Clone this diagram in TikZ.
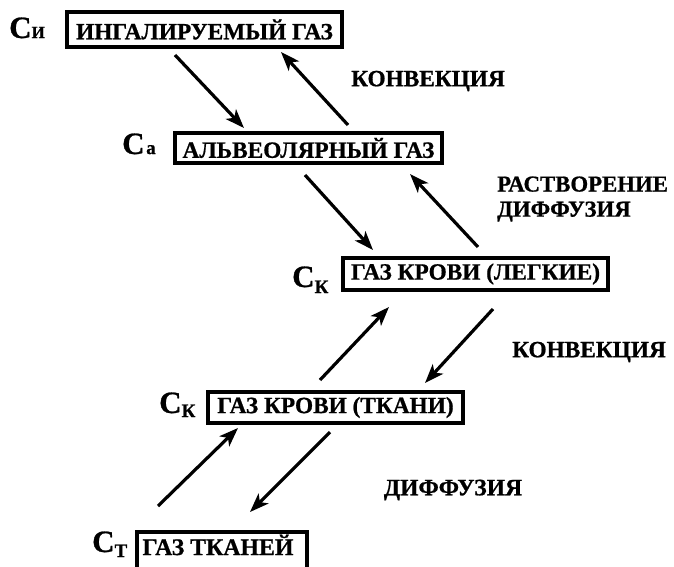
\documentclass[tikz,border=0pt]{standalone}
\usepackage{fontspec}
\setmainfont{Liberation Serif}[BoldFeatures={FakeBold=0.8}]
\usetikzlibrary{arrows.meta}
\newcommand{\bigC}{{\fontsize{31}{31}\selectfont С}}
\newcommand{\subsm}[2]{{\fontsize{#1}{#1}\selectfont #2}}
\newcommand{\gtxt}[1]{\scalebox{1.165}{#1}}
\begin{document}
\begin{tikzpicture}[x=1pt,y=-1pt,
  gasbox/.style={draw, line width=3.6pt, inner sep=0pt, font=\fontsize{20}{22}\selectfont\bfseries},
  clab/.style={anchor=base west, inner sep=0pt, font=\bfseries},
  procl/.style={inner sep=0pt, font=\fontsize{20}{23}\selectfont\bfseries, align=left},
  flow/.style={line width=3.2pt, -{Stealth[length=19pt,width=14pt,inset=5pt]}}]
\useasboundingbox (0,0) rectangle (674,566);
% boxes
\node[gasbox, minimum width=275pt, minimum height=35pt] (b1) at (204.5,29.5) {\gtxt{ИНГАЛИРУЕМЫЙ ГАЗ}};
\node[gasbox, minimum width=267pt, minimum height=30pt] (b2) at (308.5,148) {\gtxt{АЛЬВЕОЛЯРНЫЙ ГАЗ}};
\node[gasbox, minimum width=265pt, minimum height=32pt] (b3) at (475.5,274) {\gtxt{ГАЗ КРОВИ (ЛЕГКИЕ)}};
\node[gasbox, minimum width=255pt, minimum height=31pt] (b4) at (335.5,407.5) {\gtxt{ГАЗ КРОВИ (ТКАНИ)}};
\node[gasbox, minimum width=170pt, minimum height=40pt, anchor=north west] (b5) at (135,530) {};
\node[inner sep=0pt, font=\fontsize{20}{22}\selectfont\bfseries] (t5) at (218,545) {\scalebox{1.19}{ГАЗ ТКАНЕЙ}};
% concentration labels
\node[clab] (c1) at (9,38) {\bigC\subsm{17}{И}};
\node[clab] (c2) at (122,154) {\bigC\,\subsm{19}{а}};
\node[clab] (c3) at (292,287) {\bigC\raisebox{-6pt}{\subsm{19}{К}}};
\node[clab] (c4) at (159,413) {\bigC\raisebox{-4pt}{\subsm{19}{К}}};
\node[clab] (c5) at (92,552) {\bigC\raisebox{-5pt}{\subsm{19}{Т}}};
% process labels
\node[procl] (p1) at (428,81) {\gtxt{КОНВЕКЦИЯ}};
\node[procl, anchor=north west] (p2) at (497,173) {\scalebox{1.14}{\begin{tabular}{@{}l@{}}РАСТВОРЕНИЕ\\[-1pt]ДИФФУЗИЯ\end{tabular}}};
\node[procl] (p3) at (589,352) {\gtxt{КОНВЕКЦИЯ}};
\node[procl] (p4) at (453,490) {\scalebox{1.18}{ДИФФУЗИЯ}};
% arrow endpoints
\coordinate (a1s) at (175,55);  \coordinate (a1e) at (244,128);
\coordinate (a2s) at (348,125); \coordinate (a2e) at (281,52);
\coordinate (a3s) at (305,175); \coordinate (a3e) at (373,250);
\coordinate (a4s) at (478,247); \coordinate (a4e) at (410,174);
\coordinate (a5s) at (320,380); \coordinate (a5e) at (389,307);
\coordinate (a6s) at (493,309); \coordinate (a6e) at (425,383);
\coordinate (a7s) at (158,506); \coordinate (a7e) at (238,428);
\coordinate (a8s) at (330,432); \coordinate (a8e) at (250,512);
\draw[flow] (a1s) -- (a1e);
\draw[flow] (a2s) -- (a2e);
\draw[flow] (a3s) -- (a3e);
\draw[flow] (a4s) -- (a4e);
\draw[flow] (a5s) -- (a5e);
\draw[flow] (a6s) -- (a6e);
\draw[flow] (a7s) -- (a7e);
\draw[flow] (a8s) -- (a8e);
\end{tikzpicture}
\end{document}
